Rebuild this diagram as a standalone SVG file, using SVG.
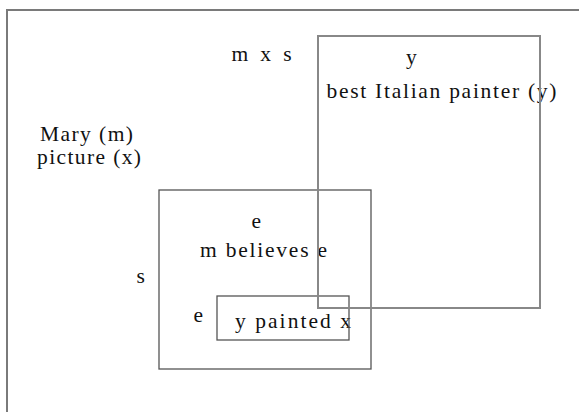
<svg xmlns="http://www.w3.org/2000/svg" width="579" height="412" viewBox="0 0 579 412">
<style>
  .t { font-family: "Liberation Serif", "Times New Roman", serif; font-size: 21.5px; fill: #111; }
  .box { fill: none; }
  .frame { stroke: #7a7a7a; stroke-width: 2; }
  .big { stroke: #888; stroke-width: 2; }
  .mid { stroke: #555; stroke-width: 1.3; }
</style>
<rect width="579" height="412" fill="#fff"/>
<g id="universe">
  <rect class="box frame" x="7" y="10" width="600" height="450"/>
  <text class="t" x="231.5" y="60.5" textLength="60" lengthAdjust="spacing">m x s</text>
  <text class="t" x="40" y="141" textLength="93" lengthAdjust="spacing">Mary (m)</text>
  <text class="t" x="37" y="164" textLength="104" lengthAdjust="spacing">picture (x)</text>
</g>
<g id="situation-s">
  <text class="t" x="136.5" y="283">s</text>
  <text class="t" x="251.5" y="228">e</text>
  <text class="t" x="200" y="257" textLength="127" lengthAdjust="spacing">m believes e</text>
  <rect class="box mid" x="159" y="190" width="212" height="179"/>
</g>
<g id="event-e">
  <text class="t" x="193.5" y="322">e</text>
  <text class="t" x="235" y="328" textLength="116" lengthAdjust="spacing">y painted x</text>
  <rect class="box mid" x="217" y="296" width="132" height="44"/>
</g>
<g id="painter-y">
  <text class="t" x="406" y="64">y</text>
  <text class="t" x="326.5" y="98" textLength="230" lengthAdjust="spacing">best Italian painter (y)</text>
  <rect class="box big" x="318" y="36" width="222" height="272"/>
</g>
<g id="connectors"></g>
</svg>
